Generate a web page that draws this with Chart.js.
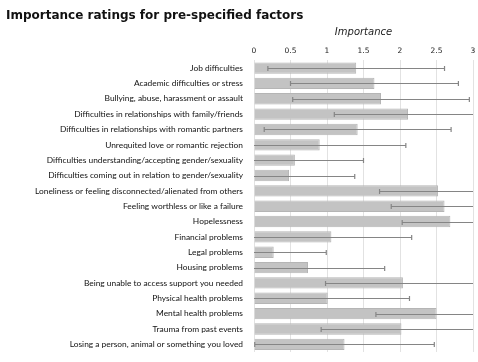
<!DOCTYPE html>
<html>
<head>
<meta charset="utf-8">
<script src="https://cdn.jsdelivr.net/npm/chart.js@4"></script>
<style>
  body { margin: 0; background: #fff; }
  #wrap { width: 478px; height: 362px; }
</style>
</head>
<body>
<div id="wrap"><canvas id="chart" width="478" height="362"></canvas></div>
<script>
// factors, mean importance and SD
var factors = [
    "Job difficulties",
    "Academic difficulties or stress",
    "Bullying, abuse, harassment or assault",
    "Difficulties in relationships with family/friends",
    "Difficulties in relationships with romantic partners",
    "Unrequited love or romantic rejection",
    "Difficulties understanding/accepting gender/sexuality",
    "Difficulties coming out in relation to gender/sexuality",
    "Loneliness or feeling disconnected/alienated from others",
    "Feeling worthless or like a failure",
    "Hopelessness",
    "Financial problems",
    "Legal problems",
    "Housing problems",
    "Being unable to access support you needed",
    "Physical health problems",
    "Mental health problems",
    "Trauma from past events",
    "Losing a person, animal or something you loved"
];
var means = [1.40, 1.65, 1.74, 2.11, 1.42, 0.90, 0.56, 0.48, 2.52, 2.61, 2.69, 1.06, 0.27, 0.74, 2.04, 1.01, 2.50, 2.02, 1.24];
var sds   = [1.21, 1.15, 1.21, 1.01, 1.28, 1.18, 0.94, 0.90, 0.80, 0.73, 0.66, 1.10, 0.72, 1.05, 1.06, 1.12, 0.83, 1.10, 1.23];
var ticks = [0, 0.5, 1, 1.5, 2, 2.5, 3];

// draws the SD whiskers on top of the bars
var errorBars = {
    id: 'errorBars',
    afterDatasetsDraw: function (chart) {
        var x = chart.scales.x, y = chart.scales.y
        var ctx = chart.ctx
        ctx.save()
        ctx.strokeStyle = '#858585'
        ctx.lineWidth = 1.2
        for (var i = 0; i < means.length; i++) {
            var lo = means[i] - sds[i], hi = means[i] + sds[i]
            var x0 = x.getPixelForValue(Math.max(lo, x.min))
            var x1 = x.getPixelForValue(Math.min(hi, x.max))
            var yc = Math.round(y.getPixelForValue(i)) + 0.5
            ctx.beginPath()
            ctx.moveTo(x0, yc)
            ctx.lineTo(x1, yc)
            if (lo > x.min) { ctx.moveTo(x0, yc - 2.5); ctx.lineTo(x0, yc + 2.5) }
            if (hi < x.max) { ctx.moveTo(x1, yc - 2.5); ctx.lineTo(x1, yc + 2.5) }
            ctx.stroke()
        }
        ctx.restore()
    }
}

new Chart("chart", {
    type: "bar",
    data: {
        labels: factors,
        datasets: [{
            data: means,
            backgroundColor: "#c3c3c3",
            borderColor: "#b5b5b5",
            borderWidth: 1,
            barPercentage: 0.74,
            categoryPercentage: 1.0
        }]
    },
    plugins: [errorBars],
    options: {
        indexAxis: 'y',
        responsive: false,
        animation: false,
        layout: { padding: { left: 6, right: 5, top: 5, bottom: 10 } },
        plugins: {
            legend: { display: false },
            tooltip: { enabled: false },
            title: {
                display: true,
                text: "Importance ratings for pre-specified factors",
                align: 'start',
                color: '#111',
                font: { family: "DejaVu Sans", size: 12, weight: 'bold' },
                padding: { top: 4, bottom: 3 }
            }
        },
        scales: {
            x: {
                position: 'top',
                min: 0,
                max: 3,
                afterBuildTicks: function (s) { s.ticks = ticks.map(function (v) { return { value: v } }) },
                afterFit: function (s) { s.paddingRight = 0 },
                grid: { color: '#e2e2e2', drawTicks: false },
                border: { display: false },
                ticks: {
                    color: '#222',
                    padding: 5,
                    font: { family: "DejaVu Sans", size: 7.5 },
                    callback: function (v) { return String(v) }
                },
                title: {
                    display: true,
                    text: "Importance",
                    color: '#222',
                    padding: { top: 0, bottom: 3 },
                    font: { family: "DejaVu Sans", size: 10, style: 'italic' }
                }
            },
            y: {
                afterFit: function (s) { s.width = 248 },
                grid: { display: false },
                border: { display: false },
                ticks: {
                    color: '#111',
                    padding: 3,
                    autoSkip: false,
                    font: { family: "Lato", size: 8.4 }
                }
            }
        }
    }
});
</script>
</body>
</html>
